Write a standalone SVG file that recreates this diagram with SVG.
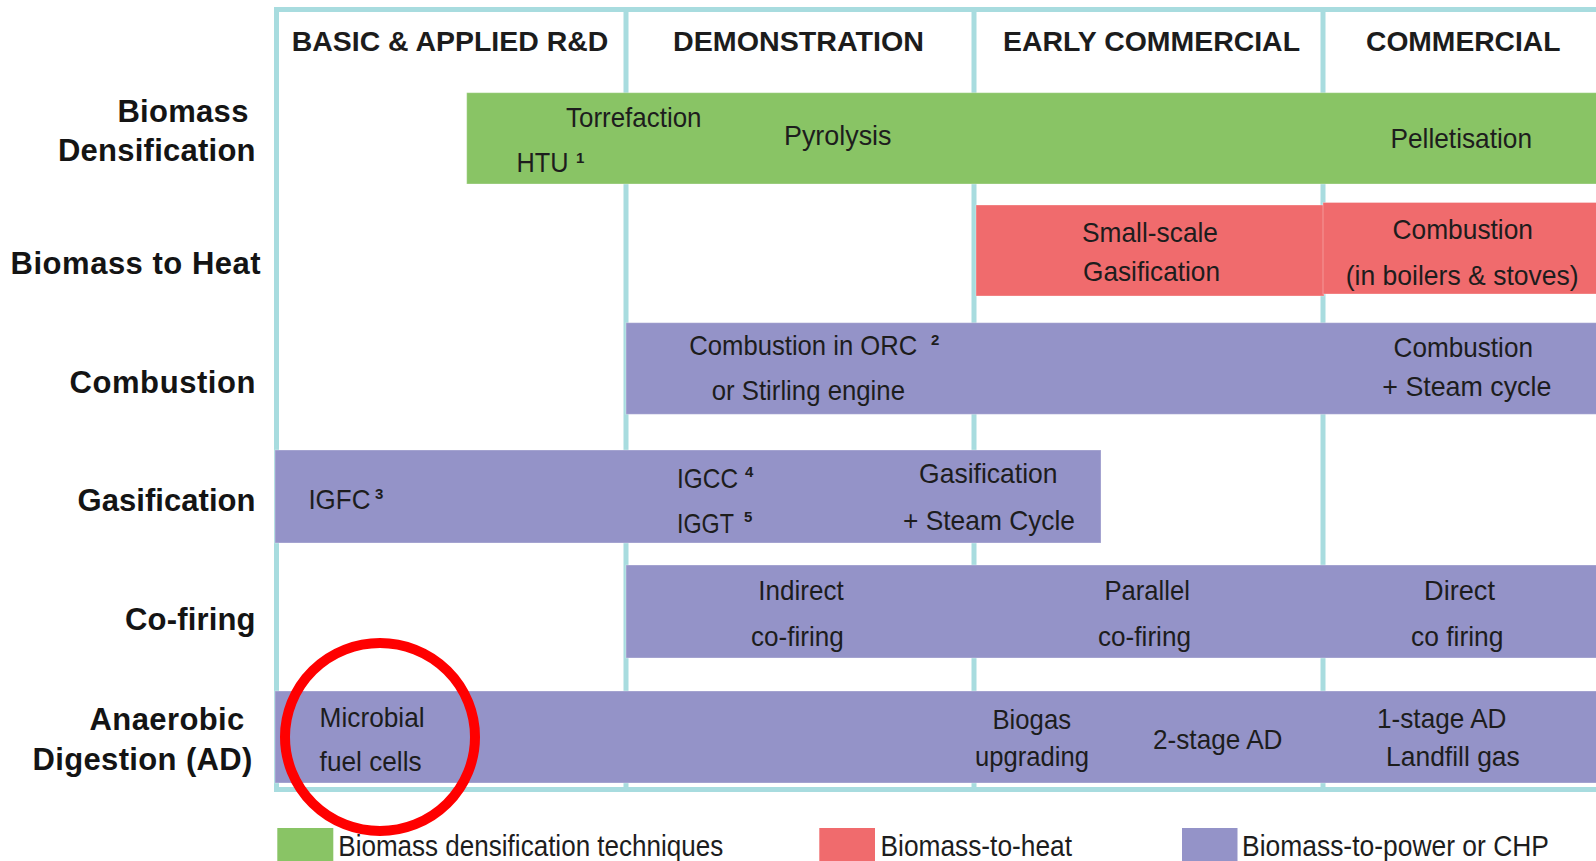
<svg xmlns="http://www.w3.org/2000/svg" width="1596" height="861" viewBox="0 0 1596 861">
  <defs>
    <style>
      .grid { stroke: #a8dcdf; stroke-width: 5; fill: none; }
      .green { fill: #89c465; }
      .red { fill: #f06b6d; }
      .purple { fill: #9493c8; }
      .bar { stroke: #ffffff; stroke-opacity: 0.3; stroke-width: 1; }
      .hd { font-family: "Liberation Sans", Arial, sans-serif; font-weight: bold; font-size: 28px; fill: #1c1c1c; }
      .row { font-family: "Liberation Sans", Arial, sans-serif; font-weight: bold; font-size: 31px; fill: #141414; text-anchor: end; }
      .t { font-family: "Liberation Sans Narrow", "Liberation Sans", Arial, sans-serif; font-size: 28px; fill: #1d1d1d; }
      .sup { font-family: "Liberation Sans", Arial, sans-serif; font-weight: bold; font-size: 15px; fill: #1d1d1d; }
      .lg { font-family: "Liberation Sans Narrow", "Liberation Sans", Arial, sans-serif; font-size: 30px; fill: #1d1d1d; }
    </style>
  </defs>

  <rect width="1596" height="861" fill="#ffffff"/>

  <!-- stage grid: outer frame and column dividers -->
  <g id="grid">
    <path class="grid" d="M1600 9.5 H276.5 V789.5 H1600"/>
    <line class="grid" x1="626" y1="9" x2="626" y2="790"/>
    <line class="grid" x1="974" y1="9" x2="974" y2="790"/>
    <line class="grid" x1="1323" y1="9" x2="1323" y2="790"/>
  </g>

  <!-- stage headings -->
  <g id="headers">
    <text class="hd" x="291.7" y="50.7" textLength="316.6" lengthAdjust="spacingAndGlyphs">BASIC &amp; APPLIED R&amp;D</text>
    <text class="hd" x="673" y="50.7" textLength="251" lengthAdjust="spacingAndGlyphs">DEMONSTRATION</text>
    <text class="hd" x="1003" y="50.7" textLength="297" lengthAdjust="spacingAndGlyphs">EARLY COMMERCIAL</text>
    <text class="hd" x="1366" y="50.7" textLength="194.5" lengthAdjust="spacingAndGlyphs">COMMERCIAL</text>
  </g>

  <!-- technology rows -->
  <g id="row-labels">
    <text class="row" x="248.4" y="121.5" textLength="131" lengthAdjust="spacing">Biomass</text>
    <text class="row" x="255.5" y="160.5" textLength="197.5" lengthAdjust="spacing">Densification</text>
    <text class="row" x="260.6" y="273.5" textLength="250" lengthAdjust="spacing">Biomass to Heat</text>
    <text class="row" x="255.5" y="392.7" textLength="186" lengthAdjust="spacing">Combustion</text>
    <text class="row" x="255.5" y="511" textLength="178" lengthAdjust="spacing">Gasification</text>
    <text class="row" x="255.5" y="629.5" textLength="130.5" lengthAdjust="spacing">Co-firing</text>
    <text class="row" x="244.3" y="730" textLength="154.7" lengthAdjust="spacing">Anaerobic</text>
    <text class="row" x="252.4" y="769.7" textLength="220" lengthAdjust="spacing">Digestion (AD)</text>
  </g>

  <!-- Biomass densification -->
  <g id="densification">
    <rect class="green bar" x="466.7" y="92.7" width="1140" height="91.3"/>
    <text class="t" x="566" y="127" textLength="135.5" lengthAdjust="spacingAndGlyphs">Torrefaction</text>
    <text class="t" x="516.5" y="171.7" textLength="52" lengthAdjust="spacingAndGlyphs">HTU</text>
    <text class="sup" x="576" y="163">1</text>
    <text class="t" x="784" y="145" textLength="107.5" lengthAdjust="spacingAndGlyphs">Pyrolysis</text>
    <text class="t" x="1390.5" y="148" textLength="141.5" lengthAdjust="spacingAndGlyphs">Pelletisation</text>
  </g>

  <!-- Biomass to heat -->
  <g id="heat">
    <rect class="red bar" x="976" y="205" width="348" height="91"/>
    <rect class="red bar" x="1323" y="202.5" width="280" height="91.5"/>
    <text class="t" x="1082" y="241.5" textLength="136" lengthAdjust="spacingAndGlyphs">Small-scale</text>
    <text class="t" x="1083" y="280.5" textLength="137" lengthAdjust="spacingAndGlyphs">Gasification</text>
    <text class="t" x="1392.5" y="238.5" textLength="140.5" lengthAdjust="spacingAndGlyphs">Combustion</text>
    <text class="t" x="1345.7" y="284.5" textLength="233" lengthAdjust="spacingAndGlyphs">(in boilers &amp; stoves)</text>
  </g>

  <!-- Combustion -->
  <g id="combustion">
    <rect class="purple bar" x="626" y="322.7" width="980" height="91.6"/>
    <text class="t" x="689.3" y="355" textLength="228" lengthAdjust="spacingAndGlyphs">Combustion in ORC</text>
    <text class="sup" x="931" y="345">2</text>
    <text class="t" x="711.7" y="400" textLength="193.3" lengthAdjust="spacingAndGlyphs">or Stirling engine</text>
    <text class="t" x="1393.5" y="357" textLength="139.5" lengthAdjust="spacingAndGlyphs">Combustion</text>
    <text class="t" x="1382.3" y="396" textLength="169" lengthAdjust="spacingAndGlyphs">+ Steam cycle</text>
  </g>

  <!-- Gasification -->
  <g id="gasification">
    <rect class="purple bar" x="275" y="450" width="826" height="93"/>
    <text class="t" x="308.4" y="509" textLength="62" lengthAdjust="spacingAndGlyphs">IGFC</text>
    <text class="sup" x="375" y="499">3</text>
    <text class="t" x="677" y="488.3" textLength="61" lengthAdjust="spacingAndGlyphs">IGCC</text>
    <text class="sup" x="745" y="477">4</text>
    <text class="t" x="677" y="533.3" textLength="57" lengthAdjust="spacingAndGlyphs">IGGT</text>
    <text class="sup" x="744" y="522">5</text>
    <text class="t" x="919" y="483" textLength="138.6" lengthAdjust="spacingAndGlyphs">Gasification</text>
    <text class="t" x="903" y="530" textLength="172" lengthAdjust="spacingAndGlyphs">+ Steam Cycle</text>
  </g>

  <!-- Co-firing -->
  <g id="cofiring">
    <rect class="purple bar" x="626" y="565" width="980" height="93"/>
    <text class="t" x="758.3" y="600" textLength="85.5" lengthAdjust="spacingAndGlyphs">Indirect</text>
    <text class="t" x="751" y="646" textLength="92.8" lengthAdjust="spacingAndGlyphs">co-firing</text>
    <text class="t" x="1104.4" y="600" textLength="85.5" lengthAdjust="spacingAndGlyphs">Parallel</text>
    <text class="t" x="1098" y="646" textLength="93" lengthAdjust="spacingAndGlyphs">co-firing</text>
    <text class="t" x="1424" y="600" textLength="71" lengthAdjust="spacingAndGlyphs">Direct</text>
    <text class="t" x="1411" y="646" textLength="92.5" lengthAdjust="spacingAndGlyphs">co firing</text>
  </g>

  <!-- Anaerobic digestion -->
  <g id="digestion">
    <rect class="purple bar" x="275" y="691" width="1331" height="92"/>
    <text class="t" x="319.6" y="727" textLength="105" lengthAdjust="spacingAndGlyphs">Microbial</text>
    <text class="t" x="319.6" y="771" textLength="102" lengthAdjust="spacingAndGlyphs">fuel cells</text>
    <text class="t" x="992.5" y="729" textLength="78.5" lengthAdjust="spacingAndGlyphs">Biogas</text>
    <text class="t" x="975" y="766" textLength="114" lengthAdjust="spacingAndGlyphs">upgrading</text>
    <text class="t" x="1153" y="749" textLength="129.5" lengthAdjust="spacingAndGlyphs">2-stage AD</text>
    <text class="t" x="1377" y="728" textLength="129.5" lengthAdjust="spacingAndGlyphs">1-stage AD</text>
    <text class="t" x="1386" y="766" textLength="133.8" lengthAdjust="spacingAndGlyphs">Landfill gas</text>
  </g>

  <!-- legend -->
  <g id="legend">
    <rect class="green" x="277.3" y="828" width="56" height="40"/>
    <text class="lg" x="338.3" y="856" textLength="385" lengthAdjust="spacingAndGlyphs">Biomass densification techniques</text>
    <rect class="red" x="819.3" y="828" width="55.7" height="40"/>
    <text class="lg" x="880.5" y="856" textLength="191.5" lengthAdjust="spacingAndGlyphs">Biomass-to-heat</text>
    <rect class="purple" x="1182" y="828" width="55.5" height="40"/>
    <text class="lg" x="1242" y="856" textLength="307" lengthAdjust="spacingAndGlyphs">Biomass-to-power or CHP</text>
  </g>

  <!-- highlight ring -->
  <g id="highlight">
    <ellipse cx="380" cy="737" rx="95" ry="94" fill="none" stroke="#ff0000" stroke-width="10"/>
  </g>
</svg>
